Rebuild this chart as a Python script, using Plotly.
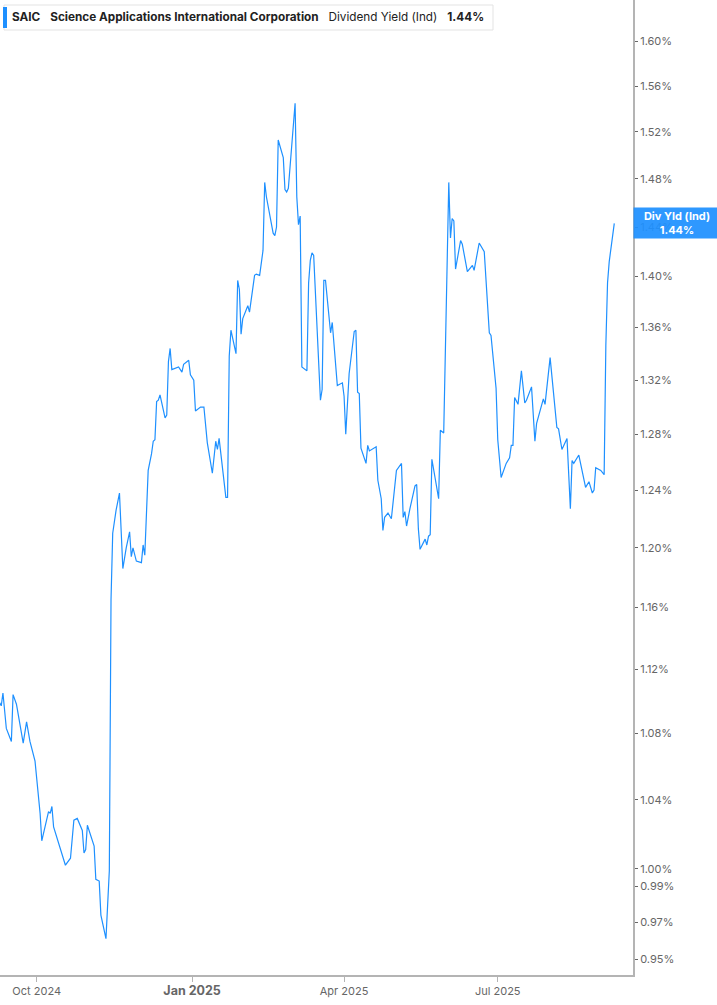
import numpy as np
import plotly.graph_objects as go

# --> Data (SAIC dividend yield, %)
dates = [
    "2024-09-09", "2024-09-10", "2024-09-11", "2024-09-13", "2024-09-16", "2024-09-17",
    "2024-09-19", "2024-09-23", "2024-09-25", "2024-09-27", "2024-09-30", "2024-10-03",
    "2024-10-04", "2024-10-08", "2024-10-09", "2024-10-10", "2024-10-11", "2024-10-15",
    "2024-10-18", "2024-10-21", "2024-10-23", "2024-10-25", "2024-10-28", "2024-10-29",
    "2024-10-30", "2024-10-31", "2024-11-04", "2024-11-05", "2024-11-07", "2024-11-08",
    "2024-11-11", "2024-11-13", "2024-11-14", "2024-11-15", "2024-11-17", "2024-11-19",
    "2024-11-21", "2024-11-23", "2024-11-25", "2024-11-26", "2024-11-27", "2024-11-29",
    "2024-12-02", "2024-12-03", "2024-12-04", "2024-12-06", "2024-12-08", "2024-12-09",
    "2024-12-10", "2024-12-11", "2024-12-12", "2024-12-13", "2024-12-16", "2024-12-17",
    "2024-12-18", "2024-12-19", "2024-12-20", "2024-12-24", "2024-12-26", "2024-12-27",
    "2024-12-30", "2024-12-31", "2025-01-02", "2025-01-03", "2025-01-06", "2025-01-08",
    "2025-01-10", "2025-01-13", "2025-01-15", "2025-01-16", "2025-01-17", "2025-01-21",
    "2025-01-22", "2025-01-23", "2025-01-24", "2025-01-27", "2025-01-28", "2025-01-29",
    "2025-01-30", "2025-01-31", "2025-02-03", "2025-02-04", "2025-02-07", "2025-02-08",
    "2025-02-10", "2025-02-12", "2025-02-13", "2025-02-14", "2025-02-18", "2025-02-19",
    "2025-02-20", "2025-02-21", "2025-02-23", "2025-02-24", "2025-02-25", "2025-02-26",
    "2025-02-27", "2025-03-03", "2025-03-04", "2025-03-05", "2025-03-06", "2025-03-07",
    "2025-03-10", "2025-03-11", "2025-03-12", "2025-03-13", "2025-03-14", "2025-03-16",
    "2025-03-18", "2025-03-19", "2025-03-20", "2025-03-21", "2025-03-24", "2025-03-25",
    "2025-03-28", "2025-03-31", "2025-04-01", "2025-04-02", "2025-04-04", "2025-04-07",
    "2025-04-08", "2025-04-09", "2025-04-10", "2025-04-11", "2025-04-14", "2025-04-15",
    "2025-04-16", "2025-04-20", "2025-04-21", "2025-04-23", "2025-04-24", "2025-04-25",
    "2025-04-27", "2025-04-29", "2025-05-02", "2025-05-05", "2025-05-06", "2025-05-07",
    "2025-05-08", "2025-05-10", "2025-05-13", "2025-05-14", "2025-05-15", "2025-05-16",
    "2025-05-19", "2025-05-20", "2025-05-21", "2025-05-22", "2025-05-23", "2025-05-27",
    "2025-05-28", "2025-05-30", "2025-06-02", "2025-06-03", "2025-06-04", "2025-06-05",
    "2025-06-06", "2025-06-09", "2025-06-10", "2025-06-13", "2025-06-16", "2025-06-17",
    "2025-06-20", "2025-06-23", "2025-06-24", "2025-06-26", "2025-06-27", "2025-06-30",
    "2025-07-01", "2025-07-03", "2025-07-06", "2025-07-08", "2025-07-09", "2025-07-10",
    "2025-07-11", "2025-07-13", "2025-07-15", "2025-07-17", "2025-07-18", "2025-07-21",
    "2025-07-23", "2025-07-24", "2025-07-28", "2025-07-29", "2025-08-01", "2025-08-03",
    "2025-08-05", "2025-08-06", "2025-08-08", "2025-08-11", "2025-08-13", "2025-08-14",
    "2025-08-15", "2025-08-18", "2025-08-20", "2025-08-22", "2025-08-24", "2025-08-26",
    "2025-08-27", "2025-08-28", "2025-08-31", "2025-09-02", "2025-09-03", "2025-09-04",
    "2025-09-05", "2025-09-08",
]

div_yield = [
    1.099, 1.097, 1.105, 1.083, 1.075, 1.104,
    1.098, 1.074, 1.087, 1.075, 1.063, 1.032,
    1.016, 1.033, 1.032, 1.036, 1.024, 1.011,
    1.002, 1.006, 1.028, 1.029, 1.022, 1.009,
    1.011, 1.025, 1.013, 0.994, 0.993, 0.974,
    0.961, 0.999, 1.165, 1.210, 1.226, 1.238,
    1.186, 1.200, 1.211, 1.194, 1.200, 1.191,
    1.190, 1.202, 1.195, 1.254, 1.266, 1.275,
    1.276, 1.304, 1.305, 1.309, 1.292, 1.294,
    1.334, 1.344, 1.328, 1.330, 1.326, 1.332,
    1.335, 1.324, 1.320, 1.297, 1.300, 1.300,
    1.274, 1.252, 1.275, 1.269, 1.277, 1.235,
    1.235, 1.338, 1.358, 1.340, 1.397, 1.390,
    1.355, 1.367, 1.377, 1.372, 1.401, 1.402,
    1.401, 1.421, 1.477, 1.465, 1.435, 1.433,
    1.440, 1.513, 1.503, 1.498, 1.471, 1.469,
    1.472, 1.545, 1.465, 1.442, 1.449, 1.330,
    1.327, 1.395, 1.413, 1.419, 1.417, 1.358,
    1.305, 1.313, 1.397, 1.397, 1.356, 1.364,
    1.316, 1.318, 1.308, 1.280, 1.325, 1.357,
    1.358, 1.311, 1.310, 1.270, 1.259, 1.272,
    1.268, 1.271, 1.247, 1.234, 1.212, 1.221,
    1.224, 1.220, 1.254, 1.259, 1.221, 1.225,
    1.215, 1.227, 1.243, 1.244, 1.213, 1.199,
    1.206, 1.202, 1.208, 1.209, 1.262, 1.234,
    1.283, 1.281, 1.477, 1.431, 1.447, 1.445,
    1.406, 1.429, 1.426, 1.404, 1.409, 1.405,
    1.427, 1.420, 1.395, 1.356, 1.354, 1.314,
    1.276, 1.249, 1.259, 1.263, 1.272, 1.272,
    1.307, 1.302, 1.327, 1.303, 1.305, 1.315,
    1.275, 1.288, 1.306, 1.302, 1.337, 1.308,
    1.285, 1.284, 1.269, 1.277, 1.227, 1.261,
    1.259, 1.265, 1.254, 1.242, 1.246, 1.238,
    1.240, 1.256, 1.254, 1.251, 1.346, 1.395,
    1.412, 1.443,
]

y_tick_values = [0.95, 0.97, 0.99, 1.00, 1.04, 1.08, 1.12, 1.16, 1.20, 1.24, 1.28,
                 1.32, 1.36, 1.40, 1.44, 1.48, 1.52, 1.56, 1.60]
x_tick_values = ["2024-10-01", "2025-01-01", "2025-04-01", "2025-07-01"]
x_tick_labels = ["Oct 2024", "<b><span style='font-size:12.5px'>Jan 2025</span></b>",
                 "Apr 2025", "Jul 2025"]

ticker = "SAIC"
company = "Science Applications International Corporation"
metric = "Dividend Yield (Ind)"
last_value = div_yield[-1]

blue = "#1E90FF"
axis_grey = "#b4b4b4"
label_grey = "#666666"
nbsp = "\u00a0"

# --> Create figure
fig = go.Figure(go.Scatter(x=dates, y=div_yield, mode="lines",
                           line=dict(color=blue, width=1.2),
                           showlegend=False, hoverinfo="x+y"))

fig.update_layout(width=717, height=1005,
                  margin=dict(l=0, r=84, t=0, b=30),
                  plot_bgcolor="white", paper_bgcolor="white",
                  font=dict(family="Inter, Roboto, sans-serif", size=11, color=label_grey))

fig.update_xaxes(range=["2024-09-09 06:14", "2025-09-19 02:00"],
                 tickvals=x_tick_values, ticktext=x_tick_labels,
                 ticks="outside", ticklen=5, tickwidth=1, tickcolor=axis_grey,
                 showline=True, linecolor=axis_grey, linewidth=2,
                 showgrid=False, zeroline=False,
                 tickfont=dict(size=11, color=label_grey))

fig.update_yaxes(type="log", side="right",
                 range=[np.log10(0.9414), np.log10(1.6383)],
                 tickvals=y_tick_values,
                 ticktext=["%.2f%%" % v for v in y_tick_values],
                 ticks="outside", ticklen=3, tickwidth=1, tickcolor=label_grey,
                 showline=True, linecolor=axis_grey, linewidth=2,
                 showgrid=False, zeroline=False,
                 tickfont=dict(size=11, color=label_grey))

# --> Header box with ticker / metric
header = ("<b>" + ticker + "</b>" + nbsp * 3 + "<b>" + company + "</b>" + nbsp * 3
          + metric + nbsp * 3 + "<b>" + "%.2f%%" % last_value + "</b>")
fig.add_annotation(xref="paper", yref="paper", x=0, y=1, xanchor="left", yanchor="top",
                   xshift=10, yshift=-8, text=header, showarrow=False, align="left",
                   font=dict(family="Inter, Roboto, sans-serif", size=11.75, color="#222222"))
fig.add_shape(type="rect", xref="paper", yref="paper", xsizemode="pixel", ysizemode="pixel",
              xanchor=0, yanchor=1, x0=4, x1=493, y0=-5, y1=-30,
              line=dict(color="#e3e3e3", width=1), fillcolor="rgba(255,255,255,0.9)", layer="below")
fig.add_shape(type="rect", xref="paper", yref="paper", xsizemode="pixel", ysizemode="pixel",
              xanchor=0, yanchor=1, x0=3, x1=7, y0=-7, y1=-28,
              line=dict(width=0), fillcolor=blue)

# --> Last value label on the axis
fig.add_annotation(xref="paper", yref="y", x=1, y=np.log10(last_value), xanchor="left",
                   yanchor="middle", showarrow=False, align="center",
                   text="<b>Div Yld (Ind)</b><br><b>%.2f%%</b>" % last_value,
                   width=84, height=28, borderpad=1, bgcolor="rgba(30,144,255,0.93)",
                   font=dict(family="Inter, Roboto, sans-serif", size=11, color="white"))

# --> Page has no body margin, so the chart sits flush with the window
fig.write_html("out.html", config={"displayModeBar": False},
               post_script="document.body.style.margin='0';")
